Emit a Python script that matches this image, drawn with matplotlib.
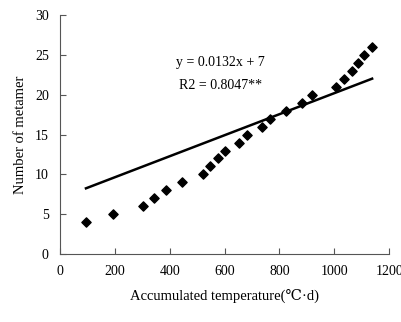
import numpy as np
import matplotlib
matplotlib.use('Agg')
import matplotlib.pyplot as plt

plt.rcParams['font.family'] = ['Liberation Serif', 'DejaVu Serif']

# accumulated temperature vs number of metamer
temp = [95, 192, 304, 343, 387, 444, 522, 548, 575, 601, 653, 683, 737, 766,
        824, 881, 918, 1005, 1037, 1064, 1087, 1109, 1136]
metamer = [4, 5, 6, 7, 8, 9, 10, 11, 12, 13, 14, 15, 16, 17,
           18, 19, 20, 21, 22, 23, 24, 25, 26]
slope = 0.0132
intercept = 7
fit_x = [95, 1138]

fig = plt.figure(figsize=(4.02, 3.22), dpi=100)
ax = fig.add_axes([0.149, 0.211, 0.819, 0.742])

ax.scatter(temp, metamer, marker='D', s=22, color='black', zorder=3)
fx = np.array(fit_x)
ax.plot(fx, slope * fx + intercept, color='black', lw=1.8)

ax.text(584, 24.0, 'y = 0.0132x + 7', ha='center', va='center', fontsize=10)
ax.text(584, 21.2, 'R2 = 0.8047**', ha='center', va='center', fontsize=10)

ax.set_xlim(0, 1200)
ax.set_ylim(0, 30)
ax.set_xticks(range(0, 1201, 200))
ax.set_yticks(range(0, 31, 5))
ax.spines['top'].set_visible(False)
ax.spines['right'].set_visible(False)
for s in ['left', 'bottom']:
    ax.spines[s].set_color('#555555')
ax.tick_params(direction='in', length=4, color='#555555', labelsize=10, pad=8)
ax.set_xlabel('Accumulated temperature(℃·d)', fontsize=10.5, labelpad=8)
ax.set_ylabel('Number of metamer', fontsize=10.5, labelpad=6)

fig.savefig('out.png', dpi=100)
